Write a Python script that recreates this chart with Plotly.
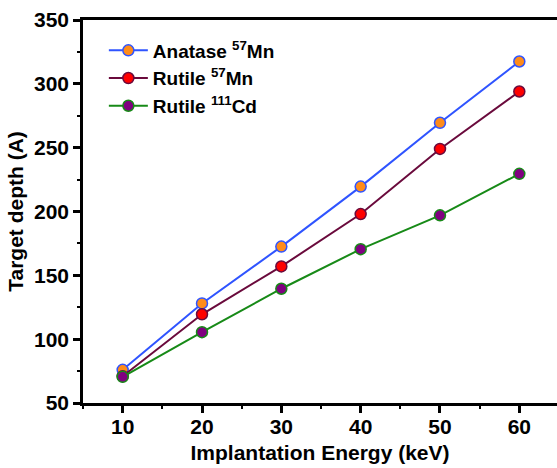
import plotly.graph_objects as go

energy = [10, 20, 30, 40, 50, 60]
anatase_mn = [76, 128, 172.5, 219.5, 269.5, 317.5]
rutile_mn = [71, 119.5, 157, 198, 249, 294]
rutile_cd = [70.5, 105.5, 139.5, 170.5, 197, 229.5]

names = ["Anatase <sup>57</sup>Mn", "Rutile <sup>57</sup>Mn", "Rutile <sup>111</sup>Cd"]
series = [anatase_mn, rutile_mn, rutile_cd]
line_colors = ["#2F54FF", "#6A0A3C", "#178A17"]
fill_colors = ["#FF8C1A", "#FF0000", "#800080"]

FONT = "Liberation Sans"

fig = go.Figure()
for name, ys, lc, fc in zip(names, series, line_colors, fill_colors):
    fig.add_trace(go.Scatter(
        x=energy, y=ys, name=name, mode="lines+markers",
        line=dict(color=lc, width=2),
        marker=dict(symbol="circle", size=11, color=fc, line=dict(color=lc, width=1.5)),
    ))

axis_common = dict(
    showline=True, linecolor="black", linewidth=2.5,
    ticks="outside", ticklen=7, tickwidth=2.5, tickcolor="black",
    showgrid=False, zeroline=False, automargin=False,
    tickfont=dict(family=FONT, size=21, color="black", weight="bold"),
)

fig.update_layout(
    template="none",
    width=557, height=468,
    margin=dict(l=83, r=0, t=20, b=65, autoexpand=False),
    paper_bgcolor="white", plot_bgcolor="white",
    font=dict(family=FONT, color="black"),
    showlegend=True,
    legend=dict(
        x=0.044, y=0.97, xanchor="left", yanchor="top",
        bgcolor="rgba(0,0,0,0)", borderwidth=0,
        font=dict(family=FONT, size=19, color="black", weight="bold"),
        itemwidth=39,
    ),
    xaxis=dict(
        **axis_common,
        range=[5, 64.75], tick0=10, dtick=10, mirror=True,
        ticklabelstandoff=-4,
        minor=dict(dtick=5, ticks="outside", ticklen=3.5, tickwidth=2, tickcolor="black"),
        title=dict(text="Implantation Energy (keV)", standoff=9,
                   font=dict(family=FONT, size=21, color="black", weight="bold")),
    ),
    yaxis=dict(
        **axis_common,
        range=[50, 350], tick0=50, dtick=50,
        minor=dict(dtick=25, ticks="outside", ticklen=3.5, tickwidth=2, tickcolor="black"),
        title=dict(text="Target depth (A)", standoff=5,
                   font=dict(family=FONT, size=21, color="black", weight="bold")),
    ),
)

fig.write_html(
    "out.html",
    config={"displayModeBar": False},
    post_script="document.body.style.margin='0';document.body.style.padding='0';document.body.style.overflow='hidden';",
)
